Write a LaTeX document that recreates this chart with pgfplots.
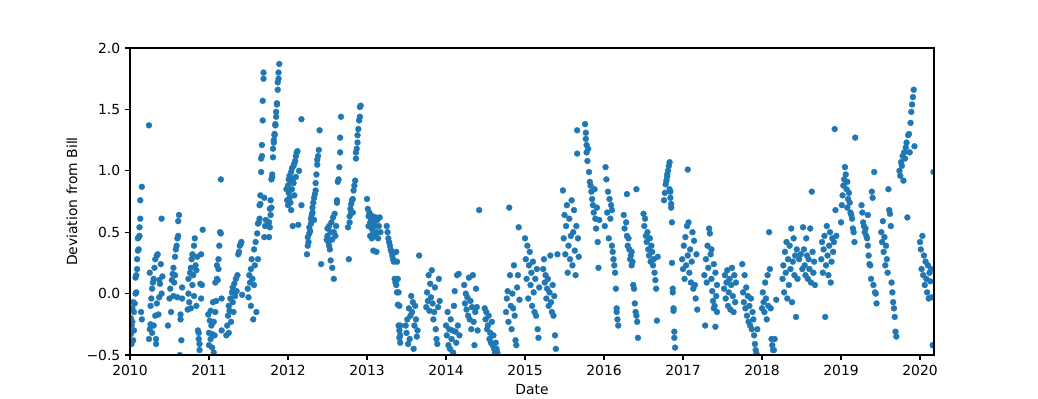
\documentclass[border=0pt]{standalone}
\usepackage{fontspec}
\setmainfont{DejaVu Sans}
\usepackage{pgfplots}
\pgfplotsset{compat=1.18}
\definecolor{mpblue}{HTML}{1F77B4}
\begin{document}
\begin{tikzpicture}
\path[use as bounding box] (-93.6bp,-31.68bp) rectangle (653.76bp,255.6bp);
\begin{axis}[
  at={(0,0)}, anchor=south west,
  scale only axis, width=578.88bp, height=221.04bp,
  xmin=2010, xmax=2020.177, ymin=-0.5, ymax=2.0,
  xtick={2010,2011,2012,2013,2014,2015,2016,2017,2018,2019,2020},
  xticklabels={2010,2011,2012,2013,2014,2015,2016,2017,2018,2019,2020},
  ytick={-0.5,0,0.5,1,1.5,2},
  yticklabels={−0.5,0.0,0.5,1.0,1.5,2.0},
  tick pos=left, tick align=outside,
  major tick length=3.5bp,
  every tick/.style={black, line width=0.8bp},
  axis line style={line width=0.8bp},
  tick label style={font=\fontsize{10bp}{12bp}\selectfont},
  label style={font=\fontsize{10bp}{12bp}\selectfont},
  xlabel={Date}, ylabel={Deviation from Bill},
  xlabel style={at={(axis description cs:0.5,-0.114)}, anchor=center},
  ylabel style={at={(axis description cs:-0.0721,0.5)}, anchor=center},
  clip marker paths=true,
  axis on top,
]
\addplot[only marks, mark=*, mark size=2.16bp, mark options={fill=mpblue, draw=mpblue, line width=0.2bp}] table[row sep=\\] {
x y\\
2010.01 -0.20\\ 2010.01 -0.33\\ 2010.02 -0.26\\ 2010.02 -0.41\\ 2010.03 -0.12\\ 2010.03 -0.23\\ 2010.04 -0.07\\ 2010.04 -0.38\\ 2010.05 -0.30\\ 2010.05 -0.15\\
2010.06 -0.08\\ 2010.07 0.00\\ 2010.07 0.13\\ 2010.08 0.01\\ 2010.08 0.15\\ 2010.09 0.20\\ 2010.09 0.28\\ 2010.10 0.35\\ 2010.10 0.45\\ 2010.11 0.36\\ 2010.11 0.46\\ 2010.12 0.47\\ 2010.12 0.54\\ 2010.13 0.61\\ 2010.13 0.76\\ 2010.15 0.87\\ 2010.14 -0.15\\ 2010.15 -0.21\\ 2010.24 1.37\\ 2010.25 0.17\\
2010.24 -0.37\\ 2010.25 -0.29\\ 2010.26 -0.25\\ 2010.26 -0.10\\ 2010.27 -0.04\\ 2010.28 0.04\\ 2010.28 -0.32\\ 2010.29 0.09\\ 2010.30 -0.26\\ 2010.30 0.12\\ 2010.31 0.21\\ 2010.32 -0.18\\ 2010.32 0.28\\ 2010.33 -0.37\\ 2010.33 -0.41\\ 2010.34 -0.08\\ 2010.34 0.31\\ 2010.35 0.32\\ 2010.36 -0.17\\ 2010.37 0.11\\ 2010.37 -0.03\\ 2010.38 0.08\\ 2010.39 0.24\\ 2010.40 0.00\\ 2010.40 0.61\\ 2010.41 0.14\\
2010.48 -0.26\\ 2010.50 -0.04\\ 2010.51 0.04\\ 2010.52 -0.15\\ 2010.53 0.11\\ 2010.54 0.16\\ 2010.55 -0.02\\ 2010.55 0.21\\ 2010.56 0.09\\ 2010.57 0.30\\ 2010.57 0.15\\ 2010.58 0.36\\ 2010.59 0.39\\ 2010.60 0.45\\ 2010.60 -0.03\\ 2010.61 0.47\\ 2010.61 0.59\\ 2010.62 0.64\\ 2010.63 -0.50\\ 2010.64 -0.17\\ 2010.64 -0.21\\ 2010.65 -0.38\\ 2010.66 0.05\\ 2010.66 -0.04\\
2010.73 -0.13\\ 2010.74 0.00\\ 2010.74 0.12\\ 2010.75 -0.07\\ 2010.76 0.17\\ 2010.77 0.21\\ 2010.77 -0.12\\ 2010.78 0.28\\ 2010.79 0.07\\ 2010.79 0.32\\ 2010.80 0.15\\ 2010.81 0.39\\ 2010.81 -0.02\\ 2010.82 0.45\\ 2010.83 0.23\\ 2010.84 0.19\\ 2010.84 -0.10\\ 2010.85 0.30\\ 2010.86 -0.30\\ 2010.87 -0.32\\ 2010.87 -0.37\\ 2010.88 -0.41\\ 2010.88 -0.46\\ 2010.89 0.08\\ 2010.90 -0.04\\ 2010.90 0.32\\ 2010.91 0.07\\ 2010.92 0.52\\
2010.99 -0.17\\ 2011.00 -0.32\\ 2011.00 -0.42\\ 2011.01 -0.22\\ 2011.02 -0.37\\ 2011.02 -0.14\\ 2011.03 -0.26\\ 2011.04 -0.44\\ 2011.04 -0.33\\ 2011.05 -0.07\\ 2011.06 -0.23\\ 2011.06 -0.48\\ 2011.07 -0.34\\ 2011.08 -0.15\\ 2011.08 0.09\\ 2011.09 -0.06\\ 2011.10 0.12\\ 2011.10 0.23\\ 2011.11 0.11\\ 2011.12 0.20\\ 2011.12 0.28\\ 2011.13 0.39\\ 2011.14 0.50\\ 2011.15 0.49\\ 2011.15 0.93\\ 2011.16 -0.04\\ 2011.16 -0.30\\
2011.22 -0.34\\ 2011.23 -0.26\\ 2011.24 -0.18\\ 2011.25 -0.32\\ 2011.25 -0.10\\ 2011.26 -0.14\\ 2011.27 -0.04\\ 2011.28 -0.23\\ 2011.29 0.01\\ 2011.30 -0.07\\ 2011.30 0.05\\ 2011.31 -0.15\\ 2011.32 0.08\\ 2011.33 -0.02\\ 2011.34 0.12\\ 2011.35 0.02\\ 2011.36 0.15\\ 2011.37 0.32\\ 2011.38 0.34\\ 2011.39 0.39\\ 2011.40 0.40\\ 2011.41 0.42\\ 2011.42 -0.01\\
2011.49 0.04\\ 2011.50 -0.03\\ 2011.51 0.15\\ 2011.52 0.09\\ 2011.53 -0.10\\ 2011.53 0.20\\ 2011.54 0.28\\ 2011.55 0.12\\ 2011.56 -0.21\\ 2011.57 0.36\\ 2011.57 0.07\\ 2011.58 0.23\\ 2011.59 0.42\\ 2011.60 -0.15\\ 2011.61 0.49\\ 2011.62 0.57\\ 2011.62 0.28\\ 2011.63 0.58\\ 2011.64 0.72\\ 2011.64 0.61\\ 2011.65 0.80\\ 2011.65 0.73\\ 2011.66 0.99\\ 2011.66 1.10\\ 2011.67 1.12\\ 2011.67 1.21\\ 2011.68 1.41\\ 2011.68 1.57\\ 2011.69 1.75\\ 2011.69 1.80\\ 2011.70 0.78\\ 2011.70 0.46\\ 2011.71 0.55\\ 2011.72 0.60\\
2011.76 0.46\\ 2011.76 0.58\\ 2011.77 0.69\\ 2011.77 0.54\\ 2011.78 0.64\\ 2011.78 0.76\\ 2011.79 0.70\\ 2011.79 0.93\\ 2011.80 0.97\\ 2011.80 0.95\\ 2011.81 1.11\\ 2011.81 1.18\\ 2011.82 1.23\\ 2011.82 1.25\\ 2011.83 1.29\\ 2011.83 1.30\\ 2011.84 1.37\\ 2011.84 1.38\\ 2011.85 1.44\\ 2011.85 1.48\\ 2011.86 1.54\\ 2011.86 1.55\\ 2011.87 1.66\\ 2011.87 1.72\\ 2011.88 1.75\\ 2011.88 1.80\\ 2011.89 1.87\\
2011.98 0.85\\ 2011.99 0.76\\ 2012.00 0.88\\ 2012.00 0.72\\ 2012.01 0.93\\ 2012.01 0.82\\ 2012.02 0.96\\ 2012.02 0.78\\ 2012.03 0.91\\ 2012.03 0.74\\ 2012.04 0.99\\ 2012.04 0.68\\ 2012.05 1.02\\ 2012.05 0.85\\ 2012.06 0.93\\ 2012.06 0.55\\ 2012.07 1.04\\ 2012.07 0.90\\ 2012.08 1.06\\ 2012.08 0.80\\ 2012.09 1.08\\ 2012.10 1.12\\ 2012.10 0.95\\ 2012.11 1.15\\ 2012.12 1.16\\ 2012.13 0.56\\ 2012.14 1.00\\ 2012.17 1.42\\ 2012.17 0.72\\
2012.24 0.32\\ 2012.25 0.39\\ 2012.25 0.46\\ 2012.26 0.42\\ 2012.27 0.49\\ 2012.27 0.54\\ 2012.28 0.51\\ 2012.29 0.57\\ 2012.29 0.61\\ 2012.30 0.64\\ 2012.31 0.66\\ 2012.31 0.70\\ 2012.32 0.74\\ 2012.33 0.60\\ 2012.33 0.78\\ 2012.34 0.81\\ 2012.35 0.84\\ 2012.35 0.90\\ 2012.36 0.97\\ 2012.37 1.05\\ 2012.37 1.09\\ 2012.38 1.12\\ 2012.39 1.17\\ 2012.40 1.33\\ 2012.42 0.24\\
2012.49 0.44\\ 2012.50 0.53\\ 2012.50 0.47\\ 2012.51 0.42\\ 2012.52 0.39\\ 2012.52 0.55\\ 2012.53 0.36\\ 2012.54 0.50\\ 2012.54 0.27\\ 2012.55 0.58\\ 2012.56 0.44\\ 2012.56 0.21\\ 2012.57 0.62\\ 2012.58 0.12\\ 2012.58 0.50\\ 2012.59 0.65\\ 2012.60 0.47\\ 2012.61 0.55\\ 2012.62 0.74\\ 2012.62 0.76\\ 2012.63 0.91\\ 2012.64 0.93\\ 2012.65 1.03\\ 2012.66 1.15\\ 2012.66 1.27\\ 2012.67 1.44\\
2012.76 0.54\\ 2012.77 0.28\\ 2012.78 0.63\\ 2012.78 0.58\\ 2012.79 0.69\\ 2012.80 0.66\\ 2012.80 0.73\\ 2012.81 0.76\\ 2012.82 0.77\\ 2012.82 0.66\\ 2012.83 0.84\\ 2012.84 0.88\\ 2012.85 0.92\\ 2012.86 1.10\\ 2012.86 1.15\\ 2012.87 1.18\\ 2012.88 1.23\\ 2012.88 1.29\\ 2012.89 1.34\\ 2012.90 1.41\\ 2012.91 1.44\\ 2012.91 1.52\\ 2012.92 1.53\\
2013.00 0.77\\ 2013.01 0.69\\ 2013.02 0.63\\ 2013.02 0.55\\ 2013.03 0.66\\ 2013.04 0.58\\ 2013.04 0.47\\ 2013.05 0.61\\ 2013.06 0.53\\ 2013.06 0.45\\ 2013.07 0.63\\ 2013.08 0.50\\ 2013.08 0.35\\ 2013.09 0.58\\ 2013.10 0.47\\ 2013.10 0.55\\ 2013.11 0.62\\ 2013.12 0.50\\ 2013.12 0.34\\ 2013.13 0.60\\ 2013.14 0.45\\ 2013.15 0.55\\ 2013.16 0.62\\ 2013.17 0.50\\
2013.25 0.55\\ 2013.26 0.50\\ 2013.27 0.45\\ 2013.28 0.42\\ 2013.29 0.39\\ 2013.30 0.36\\ 2013.31 0.34\\ 2013.32 0.31\\ 2013.33 0.28\\ 2013.34 0.26\\ 2013.35 0.12\\ 2013.36 0.09\\ 2013.37 0.07\\ 2013.37 0.34\\ 2013.38 0.01\\ 2013.38 0.26\\ 2013.39 -0.09\\ 2013.39 0.12\\ 2013.40 -0.26\\ 2013.40 0.01\\ 2013.41 -0.30\\ 2013.41 -0.10\\ 2013.42 -0.34\\ 2013.42 -0.40\\ 2013.41 -0.36\\ 2013.42 -0.26\\
2013.49 -0.26\\ 2013.50 -0.32\\ 2013.51 -0.21\\ 2013.52 -0.41\\ 2013.53 -0.12\\ 2013.54 -0.37\\ 2013.55 -0.18\\ 2013.56 -0.02\\ 2013.57 -0.15\\ 2013.58 -0.07\\ 2013.59 -0.45\\ 2013.60 -0.26\\ 2013.61 -0.10\\ 2013.62 -0.21\\ 2013.63 -0.35\\ 2013.64 -0.30\\ 2013.66 0.31\\
2013.75 -0.11\\ 2013.76 0.01\\ 2013.77 -0.06\\ 2013.78 0.15\\ 2013.79 -0.14\\ 2013.80 0.08\\ 2013.81 -0.03\\ 2013.82 0.19\\ 2013.83 -0.08\\ 2013.84 -0.21\\ 2013.85 -0.15\\ 2013.86 0.05\\ 2013.87 -0.29\\ 2013.88 -0.37\\ 2013.89 -0.41\\ 2013.90 -0.11\\ 2013.91 0.12\\ 2013.92 -0.06\\
2014.00 -0.26\\ 2014.01 -0.34\\ 2014.02 -0.15\\ 2014.03 -0.42\\ 2014.04 -0.29\\ 2014.05 -0.45\\ 2014.06 -0.21\\ 2014.07 -0.37\\ 2014.08 -0.30\\ 2014.09 -0.48\\ 2014.10 -0.10\\ 2014.11 0.02\\ 2014.12 -0.31\\ 2014.13 -0.40\\ 2014.14 0.15\\ 2014.15 -0.26\\ 2014.16 0.16\\ 2014.17 -0.34\\
2014.23 0.07\\ 2014.24 -0.08\\ 2014.25 0.00\\ 2014.26 -0.13\\ 2014.27 -0.03\\ 2014.28 -0.18\\ 2014.29 0.13\\ 2014.30 -0.21\\ 2014.31 -0.06\\ 2014.32 -0.29\\ 2014.33 -0.11\\ 2014.34 0.15\\ 2014.35 -0.23\\ 2014.36 -0.42\\ 2014.37 -0.15\\ 2014.38 0.04\\ 2014.39 -0.11\\ 2014.40 -0.30\\ 2014.42 0.68\\
2014.49 -0.12\\ 2014.50 -0.21\\ 2014.51 -0.15\\ 2014.52 -0.29\\ 2014.53 -0.26\\ 2014.54 -0.18\\ 2014.55 -0.37\\ 2014.56 -0.32\\ 2014.57 -0.40\\ 2014.58 -0.23\\ 2014.59 -0.42\\ 2014.60 -0.34\\ 2014.61 -0.45\\ 2014.62 -0.48\\ 2014.63 -0.40\\ 2014.64 -0.45\\ 2014.65 -0.48\\
2014.76 -0.15\\ 2014.77 -0.04\\ 2014.78 0.02\\ 2014.79 -0.23\\ 2014.80 0.70\\ 2014.81 0.15\\ 2014.82 -0.10\\ 2014.83 -0.29\\ 2014.84 0.00\\ 2014.85 -0.12\\ 2014.86 0.23\\ 2014.87 -0.18\\ 2014.88 -0.38\\ 2014.89 -0.42\\ 2014.90 0.05\\ 2014.91 0.15\\ 2014.92 0.54\\ 2014.93 -0.05\\
2015.00 0.45\\ 2015.01 0.28\\ 2015.02 0.12\\ 2015.03 0.39\\ 2015.04 -0.04\\ 2015.05 0.23\\ 2015.06 0.34\\ 2015.07 0.07\\ 2015.08 0.17\\ 2015.09 -0.10\\ 2015.10 0.26\\ 2015.11 0.01\\ 2015.12 -0.15\\ 2015.13 0.12\\ 2015.14 -0.18\\ 2015.15 0.20\\ 2015.16 -0.29\\ 2015.17 -0.36\\ 2015.18 0.05\\
2015.23 0.20\\ 2015.24 0.28\\ 2015.25 0.09\\ 2015.26 0.15\\ 2015.27 -0.04\\ 2015.28 0.04\\ 2015.29 0.12\\ 2015.30 -0.10\\ 2015.31 0.01\\ 2015.32 0.31\\ 2015.33 -0.07\\ 2015.34 -0.15\\ 2015.35 0.07\\ 2015.36 -0.18\\ 2015.37 -0.02\\ 2015.38 -0.34\\ 2015.39 -0.45\\ 2015.41 0.32\\
2015.48 0.84\\ 2015.49 0.45\\ 2015.50 0.64\\ 2015.51 0.32\\ 2015.52 0.55\\ 2015.53 0.72\\ 2015.54 0.17\\ 2015.55 0.39\\ 2015.56 0.61\\ 2015.57 0.28\\ 2015.58 0.47\\ 2015.59 0.76\\ 2015.60 0.23\\ 2015.61 0.50\\ 2015.62 0.68\\ 2015.63 0.35\\ 2015.64 0.15\\ 2015.65 0.55\\ 2015.66 1.33\\ 2015.66 1.14\\ 2015.67 0.45\\ 2015.68 0.30\\
2015.76 1.38\\ 2015.77 1.31\\ 2015.77 1.26\\ 2015.78 1.21\\ 2015.78 1.15\\ 2015.79 1.08\\ 2015.80 1.18\\ 2015.81 0.99\\ 2015.82 0.91\\ 2015.83 0.88\\ 2015.84 0.83\\ 2015.85 0.77\\ 2015.86 0.72\\ 2015.87 0.66\\ 2015.88 0.85\\ 2015.89 0.61\\ 2015.90 0.53\\ 2015.91 0.70\\ 2015.92 0.42\\ 2015.93 0.21\\ 2015.94 0.60\\
2016.01 0.55\\ 2016.02 1.03\\ 2016.03 0.93\\ 2016.04 0.66\\ 2016.05 0.83\\ 2016.06 0.45\\ 2016.07 0.77\\ 2016.08 0.61\\ 2016.09 0.72\\ 2016.10 0.39\\ 2016.10 0.68\\ 2016.11 0.34\\ 2016.12 0.28\\ 2016.13 0.23\\ 2016.14 0.17\\ 2016.15 0.04\\ 2016.16 -0.12\\ 2016.16 -0.15\\ 2016.17 -0.21\\ 2016.18 -0.26\\
2016.25 0.64\\ 2016.26 0.53\\ 2016.28 0.58\\ 2016.29 0.81\\ 2016.29 0.47\\ 2016.30 0.39\\ 2016.31 0.45\\ 2016.32 0.36\\ 2016.33 0.28\\ 2016.34 0.31\\ 2016.35 0.23\\ 2016.35 0.34\\ 2016.36 0.26\\ 2016.37 0.07\\ 2016.38 0.04\\ 2016.39 -0.08\\ 2016.40 -0.15\\ 2016.41 0.85\\ 2016.41 -0.18\\ 2016.42 -0.23\\ 2016.43 -0.36\\
2016.50 0.65\\ 2016.51 0.55\\ 2016.52 0.61\\ 2016.53 0.47\\ 2016.54 0.42\\ 2016.55 0.50\\ 2016.56 0.36\\ 2016.57 0.31\\ 2016.58 0.45\\ 2016.59 0.26\\ 2016.60 0.39\\ 2016.61 0.34\\ 2016.62 0.23\\ 2016.63 0.28\\ 2016.64 0.17\\ 2016.65 0.11\\ 2016.66 0.04\\ 2016.67 -0.22\\ 2016.68 0.30\\
2016.76 0.76\\ 2016.77 0.82\\ 2016.78 0.89\\ 2016.79 0.92\\ 2016.80 0.97\\ 2016.80 0.95\\ 2016.81 1.00\\ 2016.82 1.04\\ 2016.83 1.07\\ 2016.83 0.85\\ 2016.84 0.83\\ 2016.84 0.78\\ 2016.85 0.73\\ 2016.85 0.70\\ 2016.86 0.58\\ 2016.86 0.25\\ 2016.87 0.04\\ 2016.87 0.01\\ 2016.88 -0.12\\ 2016.88 -0.14\\ 2016.89 -0.31\\ 2016.89 -0.36\\ 2016.90 -0.44\\ 2017.06 1.01\\
2016.99 0.28\\ 2017.00 0.20\\ 2017.01 0.39\\ 2017.02 0.12\\ 2017.03 0.46\\ 2017.04 0.23\\ 2017.05 0.55\\ 2017.06 0.31\\ 2017.07 0.58\\ 2017.08 0.17\\ 2017.09 0.36\\ 2017.10 0.09\\ 2017.11 0.26\\ 2017.12 0.50\\ 2017.13 0.04\\ 2017.14 0.43\\ 2017.15 0.07\\ 2017.16 -0.04\\ 2017.17 0.32\\ 2017.18 -0.13\\
2017.27 0.15\\ 2017.28 -0.26\\ 2017.29 0.28\\ 2017.30 0.09\\ 2017.31 0.39\\ 2017.32 0.21\\ 2017.33 0.53\\ 2017.34 0.49\\ 2017.35 0.32\\ 2017.36 0.12\\ 2017.37 0.02\\ 2017.38 -0.06\\ 2017.39 0.24\\ 2017.40 -0.10\\ 2017.41 0.17\\ 2017.41 -0.27\\ 2017.42 -0.02\\ 2017.43 -0.15\\ 2017.43 0.07\\ 2017.36 0.36\\ 2017.39 -0.12\\
2017.52 0.04\\ 2017.53 0.15\\ 2017.54 -0.04\\ 2017.55 0.09\\ 2017.56 0.19\\ 2017.57 -0.10\\ 2017.58 0.01\\ 2017.59 0.12\\ 2017.60 -0.13\\ 2017.61 0.07\\ 2017.62 0.21\\ 2017.63 -0.02\\ 2017.64 -0.15\\ 2017.65 0.15\\ 2017.66 -0.07\\ 2017.67 0.09\\
2017.75 0.24\\ 2017.76 0.01\\ 2017.77 -0.07\\ 2017.78 0.15\\ 2017.79 -0.12\\ 2017.80 0.05\\ 2017.81 -0.18\\ 2017.82 -0.02\\ 2017.83 -0.23\\ 2017.84 -0.10\\ 2017.85 -0.26\\ 2017.86 -0.04\\ 2017.87 -0.29\\ 2017.88 -0.15\\ 2017.89 -0.21\\ 2017.90 -0.34\\ 2017.91 -0.41\\ 2017.92 -0.46\\ 2017.93 -0.49\\ 2017.94 -0.29\\
2018.00 -0.12\\ 2018.01 0.01\\ 2018.02 -0.07\\ 2018.03 -0.15\\ 2018.04 0.09\\ 2018.05 -0.04\\ 2018.06 -0.21\\ 2018.07 0.15\\ 2018.08 -0.10\\ 2018.09 0.50\\ 2018.10 0.20\\ 2018.11 -0.12\\ 2018.12 -0.37\\ 2018.13 -0.42\\ 2018.14 -0.46\\ 2018.15 -0.46\\ 2018.16 -0.37\\ 2018.18 -0.05\\
2018.26 0.12\\ 2018.27 0.23\\ 2018.28 0.01\\ 2018.29 0.34\\ 2018.30 0.17\\ 2018.31 0.42\\ 2018.32 -0.04\\ 2018.33 0.28\\ 2018.34 0.07\\ 2018.35 0.39\\ 2018.36 0.20\\ 2018.37 0.53\\ 2018.38 -0.07\\ 2018.39 0.26\\ 2018.40 0.45\\ 2018.41 0.15\\ 2018.42 0.31\\ 2018.43 -0.19\\ 2018.44 0.36\\ 2018.45 0.12\\ 2018.47 0.28\\ 2018.49 0.32\\ 2018.51 0.20\\
2018.52 0.54\\ 2018.53 0.36\\ 2018.54 0.23\\ 2018.55 0.15\\ 2018.56 0.45\\ 2018.57 0.31\\ 2018.58 0.12\\ 2018.59 0.28\\ 2018.60 0.20\\ 2018.61 0.53\\ 2018.62 0.09\\ 2018.63 0.83\\ 2018.64 0.34\\ 2018.65 0.17\\ 2018.66 0.26\\ 2018.67 0.07\\
2018.75 0.28\\ 2018.76 0.42\\ 2018.77 0.17\\ 2018.78 0.36\\ 2018.79 0.47\\ 2018.80 -0.19\\ 2018.81 0.23\\ 2018.82 0.55\\ 2018.83 0.31\\ 2018.84 0.15\\ 2018.85 0.39\\ 2018.86 0.50\\ 2018.87 0.09\\ 2018.88 0.26\\ 2018.89 0.45\\ 2018.90 0.34\\ 2018.91 0.42\\ 2018.92 1.34\\ 2018.93 0.68\\ 2018.94 0.47\\
2019.00 0.58\\ 2019.01 0.72\\ 2019.02 0.80\\ 2019.03 0.88\\ 2019.04 0.93\\ 2019.05 1.03\\ 2019.06 0.97\\ 2019.07 0.85\\ 2019.08 0.91\\ 2019.09 0.77\\ 2019.10 0.82\\ 2019.11 0.74\\ 2019.12 0.66\\ 2019.13 0.64\\ 2019.14 0.61\\ 2019.15 0.53\\ 2019.16 0.50\\ 2019.17 0.42\\ 2019.18 1.27\\ 2019.08 0.70\\
2019.26 0.72\\ 2019.27 0.66\\ 2019.28 0.58\\ 2019.29 0.55\\ 2019.30 0.50\\ 2019.31 0.53\\ 2019.32 0.47\\ 2019.33 0.45\\ 2019.34 0.39\\ 2019.35 0.31\\ 2019.36 0.24\\ 2019.37 0.23\\ 2019.38 0.12\\ 2019.39 0.83\\ 2019.40 0.78\\ 2019.41 0.07\\ 2019.42 0.99\\ 2019.43 0.01\\ 2019.44 0.00\\ 2019.45 -0.08\\ 2019.34 0.64\\
2019.51 0.50\\ 2019.52 0.42\\ 2019.53 0.59\\ 2019.54 0.34\\ 2019.55 0.46\\ 2019.56 0.23\\ 2019.57 0.39\\ 2019.58 0.28\\ 2019.59 0.17\\ 2019.60 0.85\\ 2019.61 0.68\\ 2019.62 0.65\\ 2019.63 0.55\\ 2019.64 0.09\\ 2019.65 0.01\\ 2019.66 -0.07\\ 2019.67 -0.12\\ 2019.68 -0.19\\ 2019.69 -0.31\\ 2019.70 -0.35\\
2019.74 1.00\\ 2019.75 0.96\\ 2019.76 1.07\\ 2019.77 1.04\\ 2019.78 1.12\\ 2019.79 0.92\\ 2019.80 1.15\\ 2019.81 1.10\\ 2019.82 1.19\\ 2019.83 1.23\\ 2019.84 0.62\\ 2019.85 1.29\\ 2019.86 1.30\\ 2019.87 1.15\\ 2019.88 1.39\\ 2019.89 1.48\\ 2019.90 1.54\\ 2019.91 1.60\\ 2019.92 1.66\\ 2019.93 1.20\\
2020.00 0.42\\ 2020.01 0.36\\ 2020.02 0.20\\ 2020.03 0.47\\ 2020.04 0.15\\ 2020.05 0.31\\ 2020.06 0.07\\ 2020.07 0.26\\ 2020.08 0.12\\ 2020.09 0.01\\ 2020.10 0.23\\ 2020.11 -0.04\\ 2020.12 0.17\\ 2020.13 0.10\\ 2020.14 0.20\\ 2020.15 -0.03\\ 2020.16 -0.42\\ 2020.17 0.99\\
};
\end{axis}
\end{tikzpicture}
\end{document}
